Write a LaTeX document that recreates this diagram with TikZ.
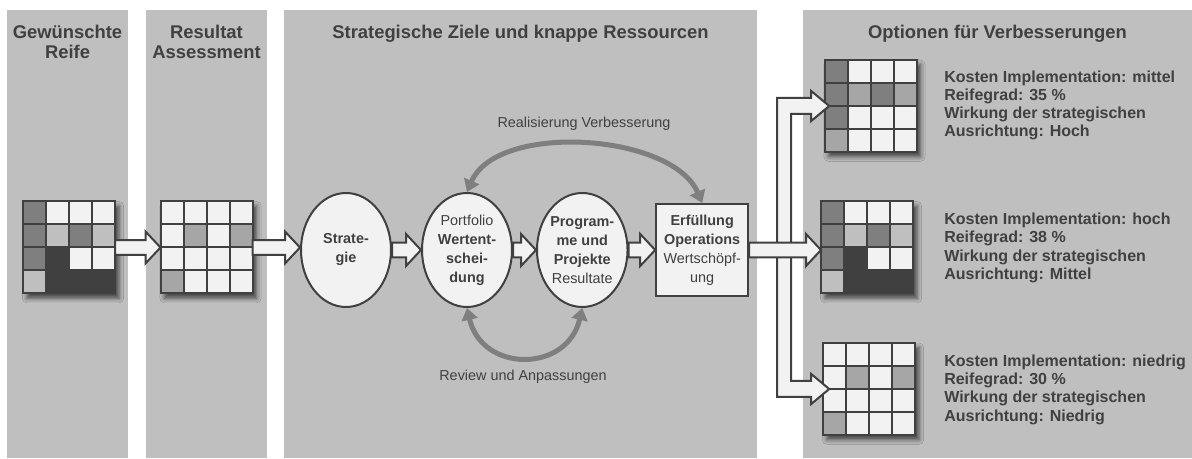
\documentclass[tikz,border=0pt]{standalone}
\usepackage{fontspec}
\setmainfont{Liberation Sans}
\usepackage{tikz}
\usetikzlibrary{calc,positioning,shapes.geometric,arrows.meta,shadows.blur}

\definecolor{spaltegrau}{HTML}{BFBFBF}
\definecolor{zellhell}{HTML}{F2F2F2}
\definecolor{zellgrau}{HTML}{BFBFBF}
\definecolor{zellmittel}{HTML}{A6A6A6}
\definecolor{zelldunkel}{HTML}{7F7F7F}
\definecolor{randgrau}{HTML}{404040}
\definecolor{pfeilgrau}{HTML}{7F7F7F}

% 4x4 Reifegrad-Matrix: Name, Mitte, Zellfarben zeilenweise
\newcommand{\reifematrix}[3]{%
  \node[matrixfeld] (#1) at (#2) {};
  \foreach \farbe [count=\nr from 0] in {#3} {
    \pgfmathtruncatemacro{\spalte}{mod(\nr,4)}
    \pgfmathtruncatemacro{\zeile}{div(\nr,4)}
    \filldraw[zelle, fill=\farbe] ($(#1.north west)+(\spalte*23,\zeile*23)$) rectangle ++(23,23);
  }
}

% Blockpfeil von Anker zu Anker
\newcommand{\blockpfeil}[2]{%
  \draw[blockrand] let \p1=(#1), \p2=(#2) in
    (\x1,\y1+5.6pt) -- (\x2-11.25pt,\y1+5.6pt) -- (\x2-11.25pt,\y1+12pt) -- (\x2,\y1)
    -- (\x2-11.25pt,\y1-12pt) -- (\x2-11.25pt,\y1-5.6pt) -- (\x1,\y1-5.6pt) -- cycle;
}

\begin{document}
\begin{tikzpicture}[x=0.75pt,y=-0.75pt,
  titel/.style={anchor=north, inner sep=0, align=center, text=randgrau,
    font=\fontsize{13.8}{15}\selectfont\bfseries},
  matrixfeld/.style={rectangle, minimum width=69pt, minimum height=69pt, inner sep=0, outer sep=0,
    fill=randgrau, blur shadow={shadow xshift=3pt, shadow yshift=-3.5pt, shadow blur radius=3.5pt, shadow opacity=65}},
  zelle/.style={draw=randgrau, line width=1.5pt},
  prozess/.style={ellipse, draw=randgrau, line width=1.5pt, fill=zellhell, minimum width=67.5pt,
    minimum height=85.5pt, inner sep=0, align=center, text=randgrau,
    font=\fontsize{10.8}{14.25}\selectfont},
  ergebnis/.style={rectangle, draw=randgrau, line width=1.5pt, fill=zellhell, minimum width=69pt,
    minimum height=69pt, inner sep=0, align=center, text=randgrau,
    font=\fontsize{10.8}{14.25}\selectfont},
  blockrand/.style={draw=randgrau, line width=1.5pt, fill=zellhell, line join=miter},
  kreislauf/.style={draw=pfeilgrau, line width=3.75pt,
    {Triangle[width=12pt,length=9pt]}-{Triangle[width=12pt,length=9pt]}},
  beschriftung/.style={inner sep=0, text=randgrau, font=\fontsize{10.8}{13}\selectfont},
  option/.style={anchor=west, inner sep=0, align=left, text=randgrau,
    font=\fontsize{12}{13.7}\selectfont\bfseries}]
\useasboundingbox (0,0) rectangle (1192,459);

% Spalten
\fill[spaltegrau] (7,10) rectangle (128,458);
\fill[spaltegrau] (146,10) rectangle (267,458);
\fill[spaltegrau] (284,10) rectangle (757,458);
\fill[spaltegrau] (803,10) rectangle (1192,458);

\node[titel] (reife) at (67.5,25) {Gewünschte\\Reife};
\node[titel] (resultat) at (206.5,25) {Resultat\\Assessment};
\node[titel] (ziele) at (520.5,25) {Strategische Ziele und knappe Ressourcen};
\node[titel] (optionen) at (997.5,25) {Optionen für Verbesserungen};

% Matrizen
\reifematrix{soll}{69,247.5}{zelldunkel,zellhell,zellhell,zellhell,
  zelldunkel,zellgrau,zelldunkel,zellgrau,zelldunkel,randgrau,zellhell,zellhell,
  zellgrau,randgrau,randgrau,randgrau}
\reifematrix{ist}{206.5,247.5}{zellhell,zellhell,zellhell,zellhell,
  zellhell,zellmittel,zellhell,zellmittel,zellhell,zellhell,zellhell,zellhell,
  zellmittel,zellhell,zellhell,zellhell}
\reifematrix{opt1}{870.5,106}{zelldunkel,zellhell,zellhell,zellhell,
  zelldunkel,zellmittel,zelldunkel,zellmittel,zelldunkel,zellhell,zellhell,zellhell,
  zellmittel,zellhell,zellhell,zellhell}
\reifematrix{opt2}{867,247.5}{zelldunkel,zellhell,zellhell,zellhell,
  zelldunkel,zellgrau,zelldunkel,zellgrau,zelldunkel,randgrau,zellhell,zellhell,
  zellgrau,randgrau,randgrau,randgrau}
\reifematrix{opt3}{869,389}{zellhell,zellhell,zellhell,zellhell,
  zellhell,zellmittel,zellhell,zellmittel,zellhell,zellhell,zellhell,zellhell,
  zellmittel,zellhell,zellhell,zellhell}

% Prozesskette
\node[prozess] (strategie) at (346,250) {\textbf{Strate-}\\\textbf{gie}};
\node[prozess, right=21.75pt of strategie] (portfolio)
  {Portfolio\\\textbf{Wertent-}\\\textbf{schei-}\\\textbf{dung}};
\node[prozess, right=17.25pt of portfolio] (programme)
  {\textbf{Program-}\\\textbf{me und}\\\textbf{Projekte}\\Resultate};
\node[ergebnis, right=20pt of programme] (erfuellung)
  {\textbf{Erfüllung}\\\textbf{Operations}\\Wertschöpf-\\ung};

\blockpfeil{soll.east}{ist.west}
\blockpfeil{ist.east}{strategie.west}
\blockpfeil{strategie.east}{portfolio.west}
\blockpfeil{portfolio.east}{programme.west}
\blockpfeil{programme.east}{erfuellung.east -| erfuellung.west}

% Rueckkopplungen
\draw[kreislauf] (portfolio.north) .. controls +(30,-70) and +(-30,-70) .. (erfuellung.north);
\draw[kreislauf] (portfolio.south) .. controls +(15,65) and +(-15,65) .. (programme.south);
\node[beschriftung] (realisierung) at (584,124) {Realisierung Verbesserung};
\node[beschriftung] (review) at (523,377) {Review und Anpassungen};

% Verzweigung zu den Optionen
\coordinate (gabel) at ($(erfuellung.east)+(28,0)$);
\draw[blockrand] ($(gabel |- opt1.west)+(0,-8)$) -- ++(34,0) -- ++(0,-7) -- ++(18,15)
  -- ++(-18,15) -- ++(0,-7) -- ++(-20,0) -- ($(gabel |- opt3.west)+(14,-8)$) -- ++(20,0)
  -- ++(0,-7) -- ++(18,15) -- ++(-18,15) -- ++(0,-7) -- ++(-34,0) -- cycle;
\blockpfeil{erfuellung.east}{opt2.west}

\node[option] (text1) at (944,105.5) {Kosten Implementation: mittel\\Reifegrad: 35 \%\\
  Wirkung der strategischen\\Ausrichtung: Hoch};
\node[option] (text2) at (944,248) {Kosten Implementation: hoch\\Reifegrad: 38 \%\\
  Wirkung der strategischen\\Ausrichtung: Mittel};
\node[option] (text3) at (944,389.5) {Kosten Implementation: niedrig\\Reifegrad: 30 \%\\
  Wirkung der strategischen\\Ausrichtung: Niedrig};
\end{tikzpicture}
\end{document}
